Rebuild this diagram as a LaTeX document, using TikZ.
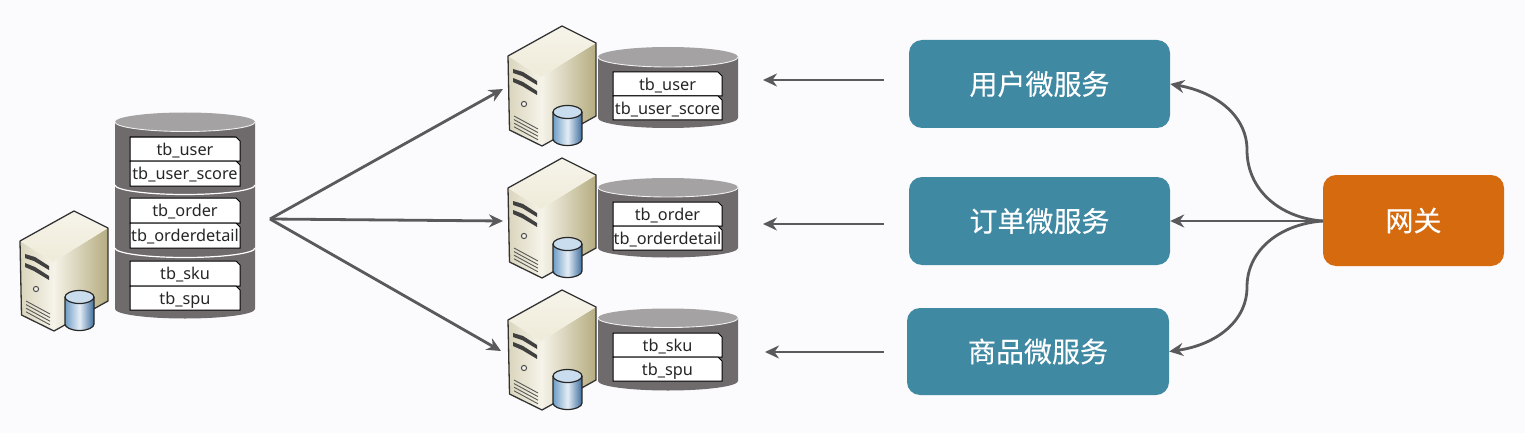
\documentclass[tikz,border=0pt]{standalone}
\usepackage{fontspec}
\setmainfont{Noto Sans}
\newfontfamily\cjkf[FakeBold=0.25]{Noto Sans CJK SC}
\definecolor{bgc}{HTML}{FBFBFD}
\definecolor{teal1}{HTML}{3F89A3}
\definecolor{orng}{HTML}{D66A0F}
\definecolor{arrowc}{HTML}{5A5A5C}
\definecolor{cylside}{HTML}{6F6A6B}
\definecolor{cyltop}{HTML}{A5A2A3}
\definecolor{srvA}{HTML}{DAD5BC}
\definecolor{srvB}{HTML}{B5AC80}
\definecolor{srvC}{HTML}{F6F4EA}
\definecolor{srvD}{HTML}{EFEBD9}
\definecolor{dbA}{HTML}{6F9CC6}
\definecolor{dbB}{HTML}{E4EDF6}
\definecolor{dbC}{HTML}{3F6E9E}
\definecolor{dbT}{HTML}{C9DDEE}
\usetikzlibrary{arrows.meta}
\tikzset{
  svc/.style={rounded corners=13pt,fill=teal1,draw=none,text=white,font=\cjkf\fontsize{28}{32}\selectfont,inner sep=0pt},
  gate/.style={rounded corners=13pt,fill=orng,draw=none,text=white,font=\cjkf\fontsize{28}{32}\selectfont,inner sep=0pt},
  conn/.style={draw=arrowc,line width=2.8pt,-{Stealth[length=14pt,width=13pt]}},
  tbl/.style={font=\fontsize{16.3}{18}\selectfont,text=black!85,inner sep=0pt},
}
% #1 x #2 y #3 prefix
\newcommand{\srv}[3]{%
\begin{scope}[shift={(#1,#2)}]
  \shade[left color=srvC,middle color=srvD,right color=srvB] (33,51)--(88,17)--(88,90)--(34,120)--cycle;
  \shade[left color=srvA,right color=srvC] (0,30)--(33,51)--(34,120)--(1.5,104)--cycle;
  \shade[top color=srvC,bottom color=srvD] (0,30)--(54,0)--(88,17)--(33,51)--cycle;
  \draw[line width=1.3pt,black!80,line join=round] (0,30)--(54,0)--(88,17)--(88,90)--(34,120)--(1.5,104)--cycle;
  \fill[black!75] (5,43)--(15,46)--(29,55)--(29,59)--(14,50)--(5,47)--cycle;
  \fill[black!75] (5,52)--(15,56)--(29,65)--(29,69)--(14,60)--(5,56)--cycle;
  \draw[black!70,line width=1pt,fill=srvC] (16,78) circle (2.6);
  \foreach \i in {0,1,2,3}{\draw[black!65,line width=.9pt] (6,90+3.6*\i)--(30,103+3.6*\i);}
  \shade[left color=dbA,right color=dbC,middle color=dbB]
    (45,86)--(45,113) arc[start angle=180,end angle=0,x radius=14.5,y radius=6.5]--(74,86)--cycle;
  \fill[dbT] (59.5,86) ellipse[x radius=14.5,y radius=6.5];
  \draw[black!85,line width=1.2pt] (45,86)--(45,113) arc[start angle=180,end angle=0,x radius=14.5,y radius=6.5]--(74,86);
  \draw[black!85,line width=1.2pt] (59.5,86) ellipse[x radius=14.5,y radius=6.5];
\end{scope}}
% #1 name #2 x1 #3 y1 #4 x2 #5 y2 #6 text
\newcommand{\tb}[6]{%
  \draw[draw=black,fill=white,line width=1pt] (#2,#3)--({#4-4},#3)--(#4,{#3+4})--(#4,#5)--(#2,#5)--cycle;
  \node[tbl] (#1) at ({(#2+#4)/2},{(#3+#5)/2+2.5}) {\strut #6};}
% cylinder #1 x1 #2 ytop-centre #3 ybottom base line #4 ry
\newcommand{\cyl}[4]{%
  \fill[cylside] (#1,#2)--(#1,#3) arc[start angle=180,end angle=0,x radius=70,y radius=#4]--({#1+140},#2)--cycle;
  \fill[cyltop] ({#1+70},#2) ellipse[x radius=70,y radius=#4];
  \draw[white!85!cyltop,line width=.9pt] (#1,#2) arc[start angle=180,end angle=0,x radius=70,y radius=#4];}
\begin{document}
\begin{tikzpicture}[x=1pt,y=-1pt]
\useasboundingbox (0,0) rectangle (1525,433);
\fill[bgc] (0,0) rectangle (1525,433);
% source database
\srv{20}{211}{a}
\cyl{115}{122}{309}{9.5}
\draw[white,line width=1.2pt] (115,185) arc[start angle=180,end angle=0,x radius=70,y radius=9.5];
\draw[white,line width=1.2pt] (115,248) arc[start angle=180,end angle=0,x radius=70,y radius=9.5];
\tb{t1}{130}{137}{240}{161}{tb\_user}
\tb{t2}{130}{161}{240}{186}{tb\_user\_score}
\tb{t3}{130}{198}{240}{223}{tb\_order}
\tb{t4}{130}{223}{240}{248}{tb\_orderdetail}
\tb{t5}{130}{261}{240}{286}{tb\_sku}
\tb{t6}{130}{286}{240}{310}{tb\_spu}
% shards
\srv{508}{26}{b}
\cyl{598}{57}{118}{10}
\tb{u1}{613}{72}{722}{96}{tb\_user}
\tb{u2}{613}{96}{722}{120}{tb\_user\_score}
\srv{508}{158}{c}
\cyl{598}{187.5}{248}{9.5}
\tb{o1}{613}{202}{722}{226}{tb\_order}
\tb{o2}{613}{226}{722}{250}{tb\_orderdetail}
\srv{508}{290}{d}
\cyl{598}{318}{381}{9.5}
\tb{s1}{613}{333}{722}{357}{tb\_sku}
\tb{s2}{613}{357}{722}{381}{tb\_spu}
% services
\node[svc,minimum width=261pt,minimum height=88pt] (user) at (1039.5,84) {用户微服务};
\node[svc,minimum width=261pt,minimum height=88pt] (order) at (1039.5,221) {订单微服务};
\node[svc,minimum width=262pt,minimum height=87pt] (goods) at (1038,351.5) {商品微服务};
\node[gate,minimum width=181pt,minimum height=91pt] (gw) at (1413.5,220.5) {网关};
% connector ends
\coordinate (fan) at (270,219);
\coordinate (sb) at (503,89);
\coordinate (sc) at (503,221);
\coordinate (sd) at (501,351);
\coordinate (ub) at (763,80);
\coordinate (ue) at (884,80);
\coordinate (ob) at (763,224);
\coordinate (oe) at (884,224);
\coordinate (gb) at (765,352);
\coordinate (ge) at (884,352);
\coordinate (gl) at (1323,221);
\draw[conn] (fan)--(sb);
\draw[conn] (fan)--(sc);
\draw[conn] (fan)--(sd);
\draw[conn] (ue)--(ub);
\draw[conn] (oe)--(ob);
\draw[conn] (ge)--(gb);
\draw[conn] (gl)--(order.east);
\draw[conn] (gl) .. controls (1280,218) and (1247,190) .. (1247,150) .. controls (1247,115) and (1215,92) .. (user.east);
\draw[conn] (gl) .. controls (1280,224) and (1247,250) .. (1247,287) .. controls (1247,322) and (1215,345) .. (goods.east);
\end{tikzpicture}
\end{document}
